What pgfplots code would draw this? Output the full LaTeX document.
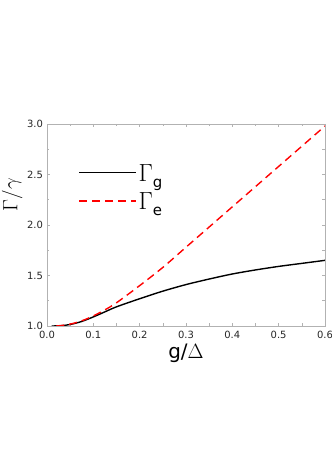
\documentclass[border=0pt]{standalone}
\usepackage{fontspec}
\setmainfont{DejaVu Sans}
\usepackage{pgfplots}
\pgfplotsset{compat=1.18}
\begin{document}
\begin{tikzpicture}
\path[use as bounding box] (0,0) rectangle (332bp,470bp);
\begin{axis}[
  at={(47bp,144bp)}, anchor=south west,
  scale only axis, width=278bp, height=202bp,
  xmin=0, xmax=0.6, ymin=1, ymax=3,
  xtick={0,0.1,...,0.6}, ytick={1,1.5,...,3},
  minor x tick num=1, minor y tick num=1,
  tick align=inside, xtick pos=both, ytick pos=both,
  major tick length=3bp, minor tick length=2.5bp,
  axis line style={gray!60, line width=0.8pt},
  tick style={gray!60, line width=0.6pt},
  /pgf/number format/.cd, fixed, fixed zerofill, precision=1, assume math mode=true,
  /pgfplots/.cd,
  tick label style={font=\fontsize{10}{12}\selectfont, text=black!85},
  xticklabel style={yshift=-1.5bp},
  yticklabel style={xshift=-0.5bp},
  xlabel={g/$\Delta$},
  xlabel style={font=\fontsize{20}{22}\selectfont, at={(axis description cs:0.5,-0.07)}, anchor=north},
  ylabel={$\Gamma/\gamma$},
  ylabel style={font=\fontsize{22}{24}\selectfont, at={(axis description cs:-0.125,0.65)}, anchor=center},
  legend style={draw=none, fill=none, at={(axis description cs:0.112,0.81)}, anchor=north west,
    font=\fontsize{23}{25}\selectfont, row sep=6bp, inner sep=0pt},
  legend cell align=left,
  legend image code/.code={\draw[#1] (0bp,0.25ex) -- (57bp,0.25ex);},
]
\addplot[black, line width=1.4pt, smooth] coordinates {
(0.01,1.000) (0.03,1.003) (0.05,1.015) (0.075,1.045) (0.1,1.09) (0.125,1.14)
(0.15,1.19) (0.2,1.27) (0.25,1.345) (0.3,1.41) (0.35,1.465) (0.4,1.515)
(0.45,1.555) (0.5,1.59) (0.55,1.62) (0.6,1.65)};
\addlegendentry{$\Gamma$\raisebox{-0.45ex}{\fontsize{15}{17}\selectfont g}}
\addplot[red, line width=1.4pt, dash pattern=on 8bp off 5bp, smooth] coordinates {
(0.02,1.0) (0.04,1.01) (0.06,1.03) (0.08,1.06) (0.1,1.10) (0.125,1.16)
(0.15,1.23) (0.2,1.40) (0.25,1.58) (0.3,1.78) (0.35,1.98) (0.4,2.18)
(0.45,2.38) (0.5,2.58) (0.55,2.78) (0.6,2.98)};
\addlegendentry{$\Gamma$\raisebox{-0.45ex}{\fontsize{15}{17}\selectfont e}}
\end{axis}
\end{tikzpicture}
\end{document}
